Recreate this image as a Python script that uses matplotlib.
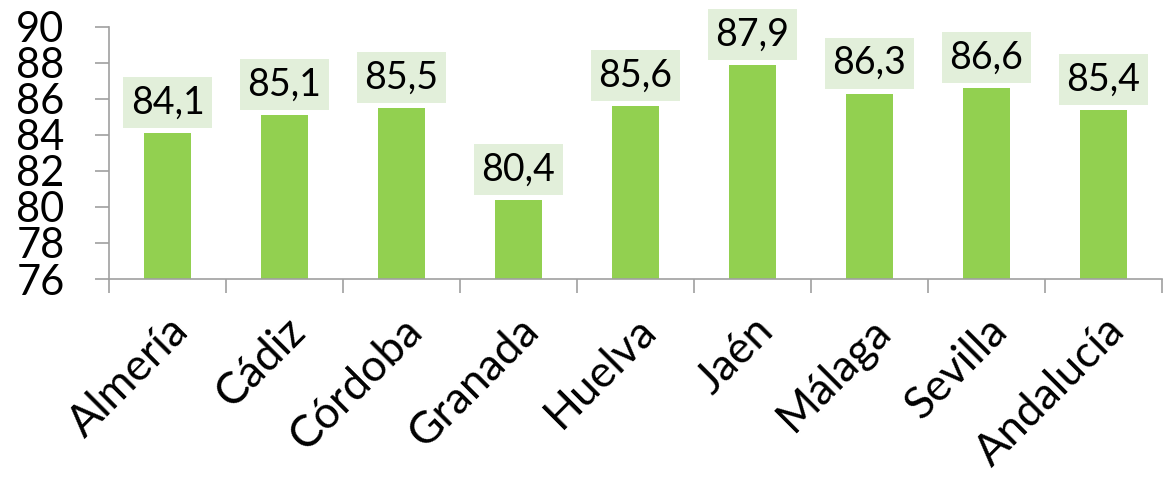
import matplotlib
matplotlib.use("Agg")
import matplotlib.pyplot as plt
import numpy as np

categories = ["Almería", "Cádiz", "Córdoba", "Granada", "Huelva", "Jaén", "Málaga", "Sevilla", "Andalucía"]
values = [84.1, 85.1, 85.5, 80.4, 85.6, 87.9, 86.3, 86.6, 85.4]
yticks = [76, 78, 80, 82, 84, 86, 88, 90]

plt.rcParams['font.family'] = ['Lato', 'DejaVu Sans']

fig = plt.figure(figsize=(11.65, 4.9), dpi=100)
ax = fig.add_axes([0.0936, 0.4306, 0.9038, 0.5144])

x = np.arange(len(categories))
ax.bar(x, [v - 76 for v in values], bottom=76, width=0.4, color="#92D050")
ax.set_xlim(-0.5, len(categories) - 0.5)
ax.set_ylim(76, 90)
ax.set_yticks(yticks)
ax.set_yticklabels([str(t) for t in yticks], fontsize=30)

ax.set_xticks(x)
ax.set_xticklabels(categories, fontsize=32, rotation=45, ha='right', rotation_mode='anchor')
ax.tick_params(axis='x', length=0, pad=22)
ax.set_xticks(np.arange(len(categories) + 1) - 0.5, minor=True)
ax.tick_params(axis='x', which='minor', length=10, color="#A0A0A0", width=1.2)
ax.tick_params(axis='y', length=10, color="#A0A0A0", width=1.2, pad=22)

for s in ['top', 'right']:
    ax.spines[s].set_visible(False)
for s in ['left', 'bottom']:
    ax.spines[s].set_color("#A0A0A0")
    ax.spines[s].set_linewidth(1.2)

for xi, v in zip(x, values):
    ax.annotate(f"{v:.1f}".replace('.', ','), xy=(xi, v), xytext=(0, 9),
                textcoords='offset points', ha='center', va='bottom', fontsize=27,
                bbox=dict(boxstyle='square,pad=0.2', fc='#E2EFDA', ec='none'))

fig.savefig("out.png", dpi=100)
